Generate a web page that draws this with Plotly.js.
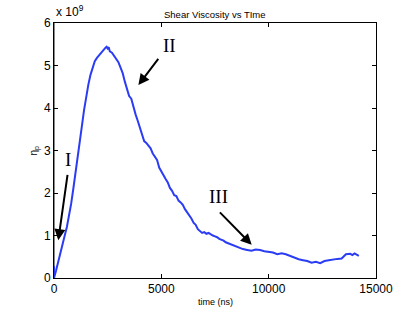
<!DOCTYPE html>
<html><head><meta charset="utf-8">
<script src="https://cdn.plot.ly/plotly-3.0.1.min.js"></script>
<style>body{margin:0;background:#fff}#c{width:415px;height:312px}</style>
</head><body><div id="c"></div>
<script>
const timeNs = [0,0,100,200,300,400,500,600,700,800,900,1000,1100,1200,1300,1400,1500,1600,1700,1800,1900,2000,2100,2200,2300,2400,2450,2500,2550,2600,2700,2800,2900,3000,3100,3200,3300,3400,3500,3600,3700,3800,3900,4000,4100,4200,4300,4400,4500,4600,4700,4800,4900,5000,5100,5200,5300,5400,5500,5600,5700,5800,5900,6000,6100,6200,6300,6400,6500,6600,6700,6800,6900,7000,7100,7200,7300,7400,7500,7600,7700,7800,7900,8000,8200,8400,8600,8800,9000,9200,9400,9600,9800,10000,10200,10400,10600,10800,11000,11200,11400,11600,11800,12000,12200,12400,12600,12800,13000,13200,13400,13500,13600,13800,13900,14000,14100,14200];
const etaP = [0.28,0,0.18,0.4,0.62,0.82,1.0,1.2,1.45,1.75,2.1,2.5,2.92,3.3,3.58,3.95,4.3,4.55,4.78,4.92,5.1,5.18,5.24,5.32,5.38,5.42,5.44,5.40,5.43,5.33,5.30,5.22,5.14,5.08,4.95,4.82,4.62,4.42,4.28,4.22,4.0,3.85,3.7,3.52,3.38,3.22,3.18,3.1,3.05,2.93,2.85,2.78,2.6,2.5,2.42,2.33,2.25,2.12,2.05,1.95,1.93,1.82,1.78,1.72,1.62,1.55,1.47,1.4,1.3,1.25,1.15,1.1,1.06,1.08,1.04,1.06,1.02,1.0,0.98,0.96,0.92,0.9,0.88,0.84,0.8,0.76,0.72,0.68,0.66,0.64,0.67,0.66,0.63,0.62,0.6,0.56,0.58,0.56,0.52,0.48,0.44,0.42,0.4,0.36,0.38,0.35,0.4,0.42,0.44,0.45,0.46,0.52,0.56,0.57,0.54,0.58,0.55,0.52];
const xTicks = [0,5000,10000,15000];
const yTicks = [0,1,2,3,4,5,6];
const labels = ['I','II','III'];
const labelPos = [[640,2.78],[5400,5.48],[7660,1.91]];
const arrowTail = [[640,2.46],[4910,5.19],[7660,1.58]];
const arrowTip = [[200,0.89],[3930,4.54],[9210,0.78]];

const SANS = 'Liberation Sans, Arial, sans-serif';
const ann = [];
labels.forEach((l,i)=>{
  ann.push({x:labelPos[i][0],y:labelPos[i][1],xref:'x',yref:'y',text:l,showarrow:false,
    font:{family:'Liberation Serif, Times New Roman, serif',size:19,color:'#000'}});
  ann.push({x:arrowTip[i][0],y:arrowTip[i][1],ax:arrowTail[i][0],ay:arrowTail[i][1],
    xref:'x',yref:'y',axref:'x',ayref:'y',text:'',showarrow:true,arrowhead:2,arrowsize:1.1,arrowwidth:2,arrowcolor:'#000'});
});
ann.push({xref:'paper',yref:'paper',x:0,y:1,xanchor:'left',yanchor:'bottom',yshift:2,
  text:'x 10<sup>9</sup>',showarrow:false,font:{family:SANS,size:12,color:'#000'}});
ann.push({xref:'paper',yref:'paper',x:0.5,y:1,xanchor:'center',yanchor:'bottom',yshift:1,
  text:'Shear Viscosity vs TIme',showarrow:false,font:{family:SANS,size:9.5,color:'#000'}});
ann.push({xref:'paper',yref:'paper',x:0.5,y:0,xanchor:'center',yanchor:'top',yshift:-17,
  text:'time (ns)',showarrow:false,font:{family:SANS,size:9,color:'#000'}});
ann.push({xref:'paper',yref:'paper',x:0,y:0.5,xanchor:'center',yanchor:'middle',xshift:-20,textangle:-90,
  text:'η<sub>p</sub>',showarrow:false,font:{family:SANS,size:10,color:'#000'}});

const axCommon = {showline:true,mirror:'ticks',linecolor:'#000',linewidth:1,ticks:'inside',ticklen:4,tickcolor:'#000',
  showgrid:false,zeroline:false,tickfont:{family:SANS,size:12,color:'#000'}};

Plotly.newPlot('c',[{x:timeNs,y:etaP,type:'scatter',mode:'lines',line:{color:'#2a3cf4',width:2},hoverinfo:'skip'}],{
  width:415,height:312,margin:{l:54,r:39,t:23,b:34},paper_bgcolor:'#fff',plot_bgcolor:'#fff',showlegend:false,
  xaxis:Object.assign({},axCommon,{range:[0,15000],tickvals:xTicks,ticktext:xTicks.map(String)}),
  yaxis:Object.assign({},axCommon,{range:[0,6],tickvals:yTicks,ticktext:yTicks.map(String)}),
  shapes:[{type:'line',xref:'paper',yref:'paper',x0:0,x1:0,y0:0,y1:1,line:{color:'#888',width:2},layer:'below'}],
  annotations:ann
},{staticPlot:true});
</script></body></html>
